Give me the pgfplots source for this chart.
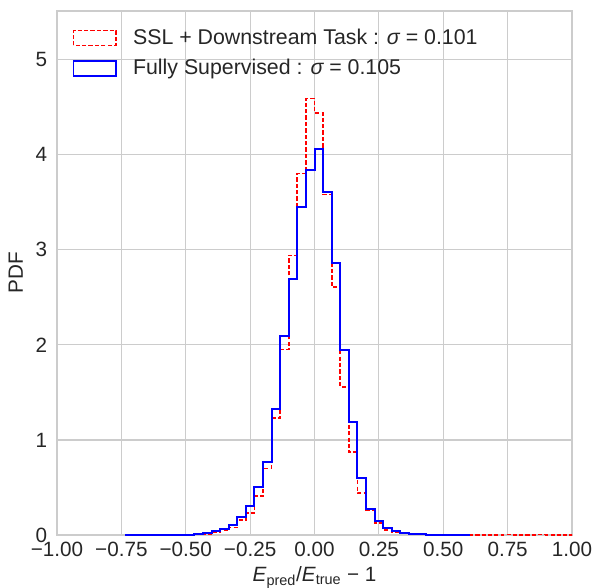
\documentclass[border=0pt]{standalone}
\usepackage{pgfplots}
\pgfplotsset{compat=1.18}
\usepackage{fontspec}
\setmainfont{Liberation Sans}
\definecolor{gridc}{HTML}{CCCCCC}
\definecolor{rr}{HTML}{FF0000}
\definecolor{bb}{HTML}{0000FF}
\begin{document}
\fontsize{15.5}{18}\selectfont
\begin{tikzpicture}[x=0.75pt,y=0.75pt]
\useasboundingbox (-57,-52) rectangle (541,535);
\begin{axis}[
  at={(0,0)}, anchor=south west,
  scale only axis, width=386.25pt, height=393pt,
  xmin=-1, xmax=1, ymin=0, ymax=5.51,
  xtick={-1,-0.75,-0.5,-0.25,0,0.25,0.5,0.75,1},
  xticklabels={−1.00,−0.75,−0.50,−0.25,0.00,0.25,0.50,0.75,1.00},
  ytick={0,1,2,3,4,5},
  yticklabels={0,1,2,3,4,5},
  major tick length=0pt,
  grid=major,
  major grid style={gridc, line width=0.9pt},
  axis line style={gridc, line width=0.9pt},
  tick label style={font=\fontsize{15.5}{18}\selectfont, black!85},
  label style={font=\fontsize{15.5}{18}\selectfont, black!85},
  xticklabel style={yshift=0pt},
  yticklabel style={xshift=-2pt},
  xlabel={\textit{E}\textsubscript{pred}/\textit{E}\textsubscript{true} − 1},
  ylabel={PDF},
  xlabel style={yshift=3pt},
  ylabel style={yshift=-1pt},
  legend cell align=left,
  legend style={at={(0,1)}, anchor=north west, draw=none, fill=none,
    font=\fontsize{16}{19}\selectfont, text=black!85,
    xshift=8.5pt, yshift=-9pt, row sep=5pt},
  legend image code/.code={\draw[#1, line width=1.2pt] (0pt,-5.6pt) rectangle (32pt,5.6pt); \path (42pt,0pt);},
]
\addplot[rr, line width=1.3pt, dash pattern=on 3.2pt off 1.6pt, const plot mark left] coordinates {
(-0.5333,0) (-0.5333,0.002) (-0.5,0.004) (-0.4667,0.006) (-0.4333,0.012) (-0.4,0.03)
(-0.3667,0.05) (-0.3333,0.08) (-0.3,0.16) (-0.2667,0.235) (-0.2333,0.41) (-0.2,0.70)
(-0.1667,1.23) (-0.1333,1.95) (-0.1,2.94) (-0.0667,3.80) (-0.0333,4.59) (0,4.44)
(0.0333,3.58) (0.0667,2.61) (0.1,1.56) (0.1333,0.87) (0.1667,0.44) (0.2,0.26)
(0.2333,0.13) (0.2667,0.05) (0.3,0.03) (0.3333,0.015) (0.3667,0.008) (0.4,0.005)
(0.4333,0.003) (0.4667,0.002) (0.5,0.002) (0.5333,0.003) (0.5667,0.004) (0.6,0.003)
(0.6333,0.003) (0.6667,0) (0.7,0) (0.7333,0.004) (0.7667,0.002) (0.8,0) (0.8333,0.003)
(0.8667,0.004) (0.9,0.003) (0.9333,0) (0.9667,0.003) (1,0)
};
\addlegendentry{SSL + Downstream Task : {\itshape σ} = 0.101}
\addplot[bb, line width=1.5pt, const plot mark left] coordinates {
(-0.7333,0) (-0.7333,0.003) (-0.7,0.002) (-0.6667,0) (-0.6333,0.002) (-0.6,0.002)
(-0.5667,0.003) (-0.5333,0.004) (-0.5,0.005) (-0.4667,0.008) (-0.4333,0.018)
(-0.4,0.042) (-0.3667,0.063) (-0.3333,0.105) (-0.3,0.19) (-0.2667,0.305) (-0.2333,0.51)
(-0.2,0.765) (-0.1667,1.32) (-0.1333,2.09) (-0.1,2.69) (-0.0667,3.45) (-0.0333,3.84)
(0,4.06) (0.0333,3.61) (0.0667,2.86) (0.1,1.95) (0.1333,1.19) (0.1667,0.60) (0.2,0.27)
(0.2333,0.147) (0.2667,0.07) (0.3,0.042) (0.3333,0.02) (0.3667,0.012) (0.4,0.006)
(0.4333,0.004) (0.4667,0.003) (0.5,0.002) (0.5333,0.002) (0.5667,0.001) (0.6,0)
};
\addlegendentry{Fully Supervised : {\itshape σ} = 0.105}
\end{axis}
\end{tikzpicture}
\end{document}
